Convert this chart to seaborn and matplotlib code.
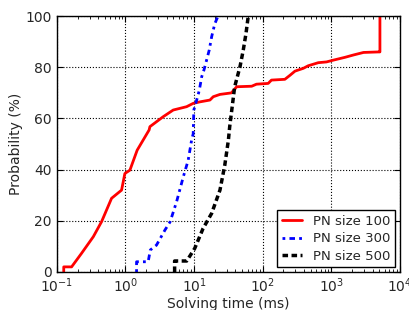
import numpy as np
import pandas as pd
import matplotlib
matplotlib.use("Agg")
import matplotlib.pyplot as plt
import seaborn as sns

# Curvas de distribuição acumulada (tempo em ms, probabilidade em %)
t_100 = [0.126, 0.126, 0.164, 0.229, 0.34, 0.449, 0.627, 0.877, 0.98, 1.16, 1.48, 2.21,
         2.27, 3.55, 4.96, 7.77, 9.7, 12.2, 17, 19, 23.8, 35, 41.7, 69, 81, 120, 134,
         210, 250, 295, 390, 460, 645, 850, 1070, 1580, 2090, 2940, 4800, 5100, 5100]
p_100 = [0, 2, 2, 7.3, 13.8, 19.7, 28.8, 32, 38.5, 39.8, 47.6, 55.5,
         56.8, 60.7, 63.3, 64.6, 65.9, 66.5, 67.2, 68.5, 69.4, 70, 72.4, 72.6, 73.4, 73.7, 75,
         75.3, 76.9, 78.5, 79.6, 80.6, 81.8, 82.1, 82.8, 83.9, 84.8, 85.8, 86, 86, 100]

t_300 = [1.45, 1.45, 2.14, 2.3, 2.83, 3.76, 4.47, 5.56, 6.96, 8.2, 9.2, 9.7,
         9.9, 10.9, 11.9, 12.9, 13.9, 15.2, 16.6, 18, 20, 22.3]
p_300 = [0, 4, 4, 8.6, 10.5, 16.4, 19.6, 27.5, 37.2, 43.7, 51.6, 54,
         63.3, 67.2, 71, 76.3, 78.9, 82.8, 86.7, 91.9, 97, 100]

t_500 = [5.2, 5.2, 7.8, 10.2, 13.5, 18, 23.8, 28, 31.6, 33, 39, 46.6, 52, 57, 61.5]
p_500 = [0, 4.3, 4.3, 9.2, 17, 22.9, 32, 41.8, 51.6, 56.8, 72.4, 80.2, 86.7, 93.2, 100]

rotulos = ["PN size 100", "PN size 300", "PN size 500"]
cores = ["red", "blue", "black"]
estilos = ["-", (0, (1, 1.5, 2, 1.5)), (0, (1.6, 1.0))]
larguras = [2, 2, 2.5]

sns.set_style("ticks")
plt.rcParams["font.family"] = ["DejaVu Sans"]
plt.rcParams["xtick.direction"] = "in"
plt.rcParams["ytick.direction"] = "in"

fig = plt.figure(figsize=(4.09, 3.10), dpi=100)
ax = fig.add_axes([0.139, 0.1226, 0.839, 0.8254])

for t, p, rot, cor, est, lw in zip([t_100, t_300, t_500], [p_100, p_300, p_500],
                                   rotulos, cores, estilos, larguras):
    df = pd.DataFrame({"t": t, "p": p})
    sns.lineplot(data=df, x="t", y="p", ax=ax, sort=False, estimator=None,
                 color=cor, linestyle=est, linewidth=lw, label=rot)

ax.set_xscale("log")
ax.set_xlim(0.1, 1e4)
ax.set_ylim(0, 100)
ax.set_yticks([0, 20, 40, 60, 80, 100])
ax.set_xlabel("Solving time (ms)", fontsize=10, labelpad=1)
ax.set_ylabel("Probability (%)", fontsize=10, labelpad=2)
ax.tick_params(which="both", top=True, right=True, labelsize=10, color="black")
ax.tick_params(which="major", length=4)
ax.tick_params(which="minor", length=2)
ax.grid(True, which="major", color="black", linestyle=":", linewidth=0.8)
for s in ax.spines.values():
    s.set_color("black")
    s.set_linewidth(1)

leg = ax.legend(loc="lower right", fontsize=9.5, fancybox=False, framealpha=1,
                edgecolor="black", handlelength=1.5, handletextpad=0.9,
                labelspacing=0.35, borderpad=0.35, borderaxespad=0.35)
leg.get_frame().set_linewidth(1)

fig.savefig("out.png", dpi=100)
